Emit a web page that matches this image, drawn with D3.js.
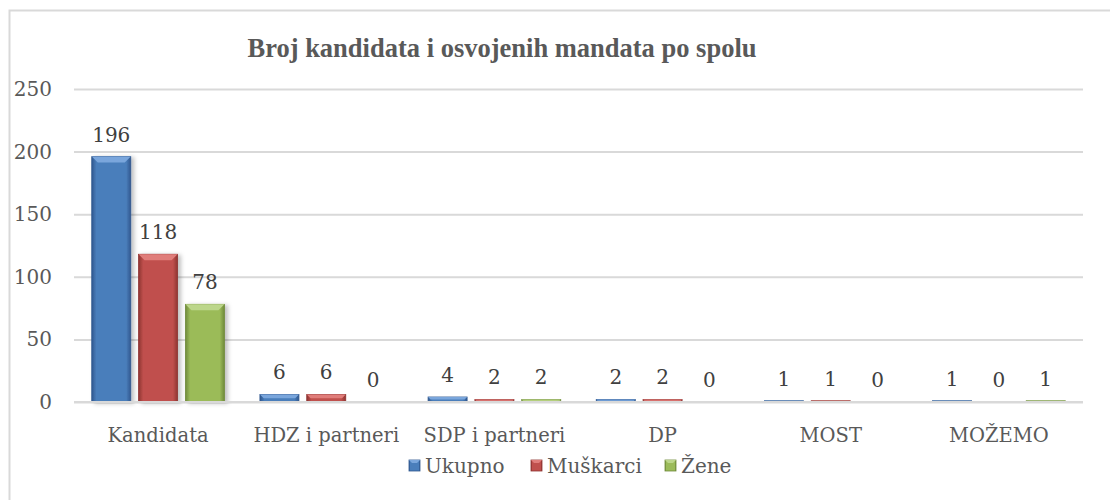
<!DOCTYPE html>
<html>
<head>
<meta charset="utf-8">
<script src="https://cdn.jsdelivr.net/npm/d3@7"></script>
<style>
  body { margin: 0; background: #fff; }
  svg { display: block; }
</style>
</head>
<body>
<svg id="chart" width="1110" height="500"></svg>
<script>
// data
var categories = ["Kandidata", "HDZ i partneri", "SDP i partneri", "DP", "MOST", "MOŽEMO"];
var series = ["Ukupno", "Muškarci", "Žene"];
var ukupno = [196, 6, 4, 2, 1, 1];
var muskarci = [118, 6, 2, 2, 1, 0];
var zene = [78, 0, 2, 0, 0, 1];
var yTicks = [0, 50, 100, 150, 200, 250];
var colors = ["#4a7ebb", "#c0504d", "#9bbb59"];
var edgeColors = ["#30588f", "#8e3431", "#6f8a3a"];
var lightColors = ["#7aa6dc", "#e07d7a", "#bcd68a"];

var values = [ukupno, muskarci, zene];

var margin = { left: 74, right: 1083, top: 89, bottom: 402 };

var svg = d3.select("#chart");

// outer border
svg.append("rect")
  .attr("x", 9.5).attr("y", 10.5)
  .attr("width", 1200).attr("height", 600)
  .attr("fill", "none")
  .attr("stroke", "#d9d9d9")
  .attr("stroke-width", 2);

var x0 = d3.scaleBand().domain(categories).range([margin.left, margin.right]);
// bar width from gap width ~131%, overlap -20%
var barW = x0.bandwidth() / 4.31;
var groupW = barW * 3 + barW * 0.2 * 2;
var x1 = d3.scaleBand().domain(series)
  .range([x0.bandwidth() / 2 - groupW / 2, x0.bandwidth() / 2 + groupW / 2])
  .paddingInner(0.2 / 1.2);

var y = d3.scaleLinear().domain([0, 250]).range([margin.bottom, margin.top]);

// gradients
var defs = svg.append("defs");
series.forEach(function (s, i) {
  var g = defs.append("linearGradient")
    .attr("id", "grad" + i)
    .attr("x1", "0%").attr("x2", "100%").attr("y1", "0%").attr("y2", "0%");
  g.append("stop").attr("offset", "0%").attr("stop-color", edgeColors[i]);
  g.append("stop").attr("offset", "12%").attr("stop-color", colors[i]);
  g.append("stop").attr("offset", "50%").attr("stop-color", colors[i]);
  g.append("stop").attr("offset", "88%").attr("stop-color", colors[i]);
  g.append("stop").attr("offset", "100%").attr("stop-color", edgeColors[i]);
});
var f = defs.append("filter").attr("id", "shadow")
  .attr("x", "-20%").attr("y", "-5%").attr("width", "150%").attr("height", "115%");
f.append("feDropShadow").attr("dx", 3).attr("dy", 1).attr("stdDeviation", 2)
  .attr("flood-color", "#000").attr("flood-opacity", 0.25);

// gridlines
var yAxis = d3.axisLeft(y).tickValues(yTicks).tickSize(-(margin.right - margin.left)).tickPadding(22);
var gy = svg.append("g")
  .attr("transform", "translate(" + margin.left + ",0)")
  .call(yAxis);
gy.select(".domain").remove();
gy.selectAll("line").attr("stroke", "#d9d9d9").attr("stroke-width", 2);
gy.selectAll("text")
  .attr("fill", "#595959")
  .style("font-family", "DejaVu Serif")
  .style("font-size", "20px");

// bars
categories.forEach(function (c, ci) {
  var grp = svg.append("g").attr("transform", "translate(" + x0(c) + ",0)");
  series.forEach(function (s, si) {
    var v = values[si][ci];
    var bx = x1(s);
    var bw = x1.bandwidth();
    if (v > 0) {
      grp.append("rect")
        .attr("x", bx).attr("y", y(v))
        .attr("width", bw).attr("height", y(0) - y(v))
        .attr("fill", "url(#grad" + si + ")")
        .attr("stroke", edgeColors[si])
        .attr("stroke-width", 0.8)
        .attr("filter", v > 10 ? "url(#shadow)" : null);
      var h = Math.min(6, (y(0) - y(v)) / 2);
      grp.append("path")
        .attr("d", "M" + bx + "," + y(v) + "L" + (bx + bw) + "," + y(v) +
          "L" + (bx + bw - h) + "," + (y(v) + h) + "L" + (bx + h) + "," + (y(v) + h) + "Z")
        .attr("fill", lightColors[si]);
    }
    grp.append("text")
      .attr("x", bx + bw / 2)
      .attr("y", y(v) - 15)
      .attr("text-anchor", "middle")
      .attr("fill", "#404040")
      .style("font-family", "DejaVu Serif")
      .style("font-size", "20px")
      .text(v);
  });
});

// x axis line and labels
svg.append("line")
  .attr("x1", margin.left).attr("x2", margin.right)
  .attr("y1", y(0)).attr("y2", y(0))
  .attr("stroke", "#d9d9d9").attr("stroke-width", 2);

svg.append("g").selectAll("text")
  .data(categories)
  .enter()
  .append("text")
  .attr("x", function (d) { return x0(d) + x0.bandwidth() / 2; })
  .attr("y", 442)
  .attr("text-anchor", "middle")
  .attr("fill", "#595959")
  .style("font-family", "DejaVu Serif")
  .style("font-size", "19.5px")
  .text(function (d) { return d; });

// title
svg.append("text")
  .attr("x", 502)
  .attr("y", 57)
  .attr("text-anchor", "middle")
  .attr("fill", "#595959")
  .style("font-family", "Liberation Serif")
  .style("font-weight", "bold")
  .style("font-size", "26.5px")
  .text("Broj kandidata i osvojenih mandata po spolu");

// legend
var legendX = [409, 531, 665];
var lg = svg.append("g").selectAll("g")
  .data(series)
  .enter()
  .append("g")
  .attr("transform", function (d, i) { return "translate(" + legendX[i] + ",460)"; });
lg.append("rect")
  .attr("width", 11).attr("height", 11)
  .attr("fill", function (d, i) { return "url(#grad" + i + ")"; })
  .attr("stroke", function (d, i) { return edgeColors[i]; })
  .attr("stroke-width", 0.8);
lg.append("path")
  .attr("d", "M0,0L11,0L8,3L3,3Z")
  .attr("fill", function (d, i) { return lightColors[i]; });
lg.append("text")
  .attr("x", 16).attr("y", 13)
  .attr("fill", "#595959")
  .style("font-family", "DejaVu Serif")
  .style("font-size", "20px")
  .text(function (d) { return d; });
</script>
</body>
</html>
